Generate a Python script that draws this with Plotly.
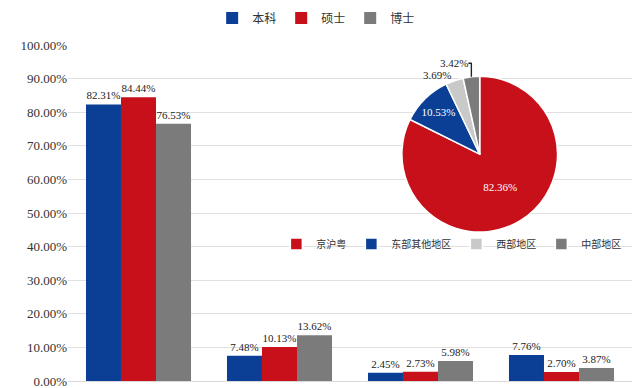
import plotly.graph_objects as go

categories = ["京沪粤", "东部其他地区", "西部地区", "中部地区"]
bachelor = [0.8231, 0.0748, 0.0245, 0.0776]
master = [0.8444, 0.1013, 0.0273, 0.0270]
doctor = [0.7653, 0.1362, 0.0598, 0.0387]

pie_labels = ["京沪粤", "东部其他地区", "西部地区", "中部地区"]
pie_values = [82.36, 10.53, 3.69, 3.42]

BLUE = "#0B3F96"
RED = "#C8101A"
GRAY = "#7B7B7B"
LGRAY = "#C9C9C9"
FONT = "Liberation Serif, Noto Sans CJK SC"

fig = go.Figure()
for name, vals, col in [("本科", bachelor, BLUE), ("硕士", master, RED), ("博士", doctor, GRAY)]:
    fig.add_trace(go.Bar(
        x=categories, y=vals, name=name, marker_color=col, marker_line_width=0,
        texttemplate="%{y:.2%}", textposition="outside", cliponaxis=False,
        textfont=dict(size=11, color="#222222", family=FONT),
        legend="legend",
    ))

fig.add_trace(go.Pie(
    labels=pie_labels, values=pie_values, sort=False, direction="clockwise", rotation=0,
    marker=dict(colors=[RED, BLUE, LGRAY, GRAY], line=dict(color="white", width=1.5)),
    texttemplate="%{value:.2f}%", textposition=["inside", "inside", "outside", "outside"],
    insidetextfont=dict(color="white", size=11, family=FONT),
    outsidetextfont=dict(color="#222222", size=11, family=FONT),
    domain=dict(x=[0.592, 0.868], y=[0.39, 0.96]),
    legend="legend2", showlegend=True, insidetextorientation="horizontal",
))

fig.update_layout(
    width=632, height=380,
    margin=dict(l=60, r=8, t=37, b=7, autoexpand=False),
    paper_bgcolor="white", plot_bgcolor="white",
    font=dict(family=FONT, size=12, color="#333333"),
    barmode="group", bargap=0.255, bargroupgap=0,
    yaxis=dict(range=[0, 1.0], dtick=0.1, tickformat=".2%", gridcolor="#E0E0E0",
               gridwidth=1, zeroline=False, showline=False, ticks="",
               ticklabeloverflow="allow", automargin=False,
               tickfont=dict(size=13, color="#333333")),
    xaxis=dict(showticklabels=False, showline=True, linecolor="#D9D9D9", ticks="",
               automargin=False),
    legend=dict(orientation="h", x=0.44, xanchor="center", y=1.08, yanchor="middle",
                font=dict(size=12), itemwidth=30, traceorder="normal",
                tracegroupgap=0, itemsizing="constant"),
    legend2=dict(orientation="h", x=0.99, xanchor="right", y=0.408, yanchor="middle",
                 font=dict(size=10), itemwidth=30, bgcolor="rgba(0,0,0,0)"),
)

fig.write_html("out.html")
